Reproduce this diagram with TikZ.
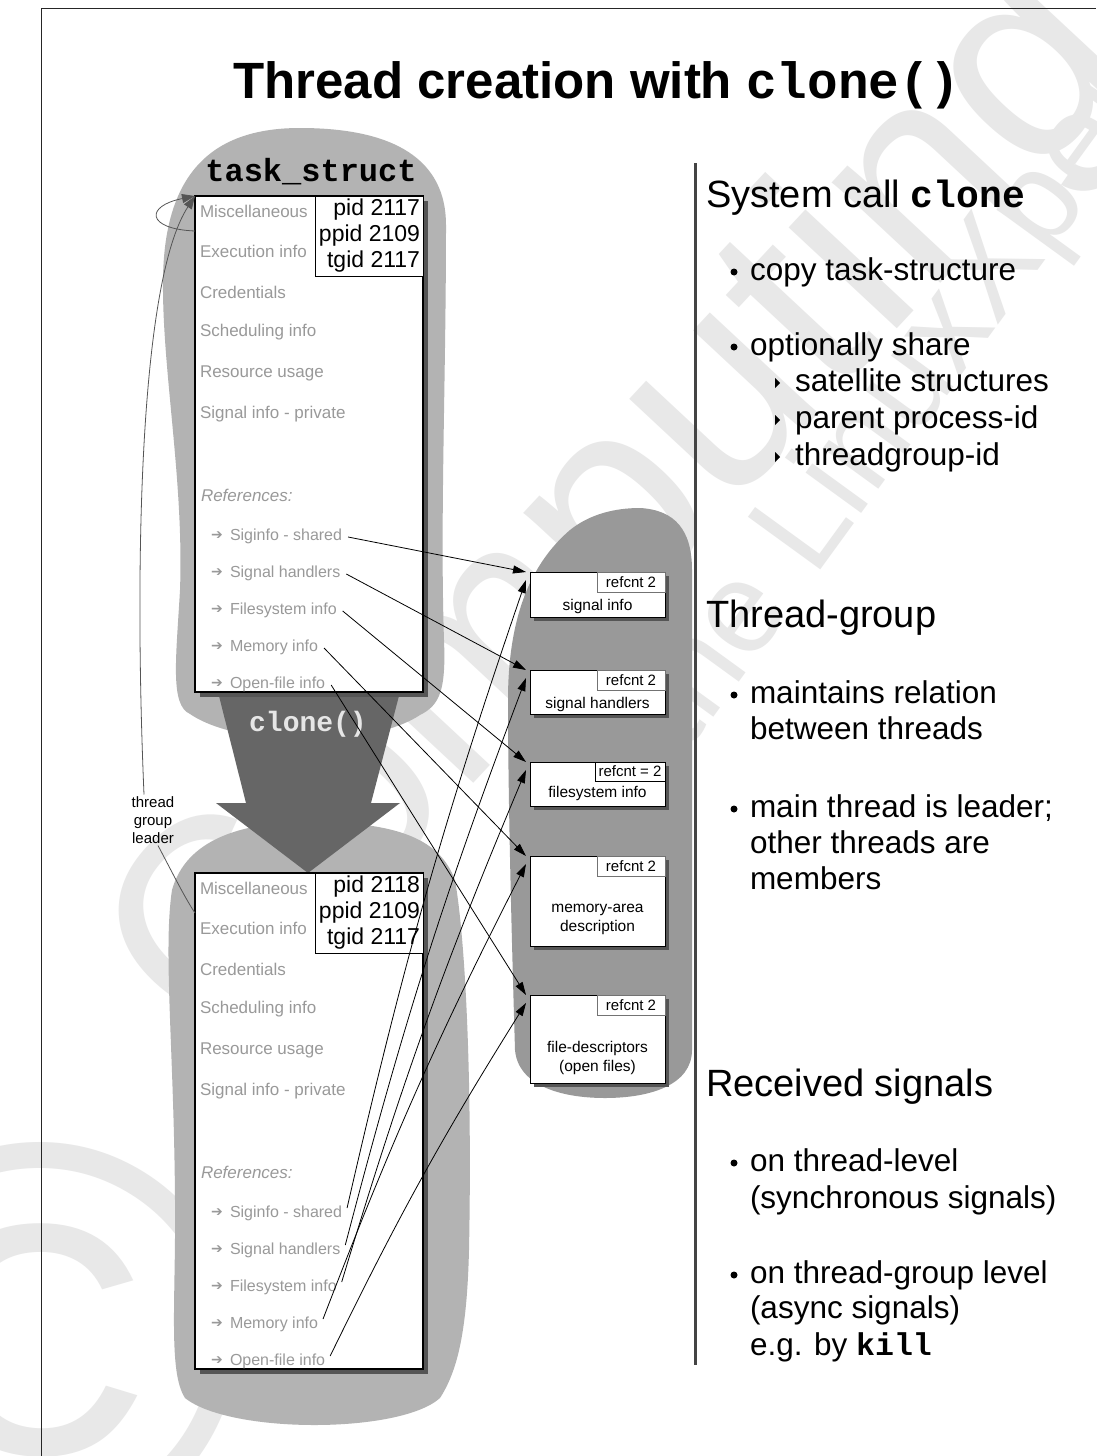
\documentclass[tikz,border=0pt]{standalone}
\usepackage{fontspec}
\setmainfont{Liberation Sans}
\newfontfamily\codefont{Liberation Mono}
\newfontfamily\glyphfont{DejaVu Sans}
\usetikzlibrary{arrows.meta,calc,shadows}

\definecolor{blobgray}{HTML}{B3B3B3}
\definecolor{satgray}{HTML}{999999}
\definecolor{arrowgray}{HTML}{666666}
\definecolor{itemgray}{HTML}{999999}
\definecolor{markgray}{HTML}{E8E8E8}
\definecolor{shadowgray}{HTML}{555555}
\definecolor{linkgray}{HTML}{555555}
\definecolor{rulegray}{HTML}{444444}
\definecolor{clonetext}{HTML}{E6E6E6}

\newcommand{\setfs}[2]{\fontsize{#1}{#2}\selectfont}
\newcommand{\code}[1]{{\codefont\bfseries #1}}

\begin{document}
\begin{tikzpicture}[
  x=1pt, y=-1pt,
  every node/.style={inner sep=0pt, outer sep=0pt},
  bigshadow/.style={drop shadow={shadow xshift=5pt, shadow yshift=-5pt, fill=shadowgray, opacity=1}},
  smallshadow/.style={drop shadow={shadow xshift=4pt, shadow yshift=-4pt, fill=shadowgray, opacity=1}},
  frame/.style={draw=black, line width=1.1pt, fill=white, bigshadow, anchor=north west,
    minimum width=228, minimum height=496},
  pidbox/.style={draw=black, line width=1pt, fill=white, anchor=north east,
    minimum width=105, minimum height=80, align=right, inner xsep=3pt, font=\setfs{23}{26}},
  item/.style={anchor=west, text=itemgray, font=\setfs{17}{20}},
  refitem/.style={anchor=west, text=itemgray, font=\setfs{16}{19}},
  refmark/.style={anchor=west, text=itemgray, font=\glyphfont\setfs{14}{16}},
  satbox/.style={draw=black, line width=1pt, fill=white, smallshadow, anchor=north west,
    minimum width=135},
  refcnt/.style={draw=black!55, line width=0.8pt, fill=white, anchor=north east,
    minimum width=68, minimum height=20, font=\setfs{15}{18}},
  satlabel/.style={align=center, font=\setfs{15.5}{19}},
  head/.style={anchor=west, font=\setfs{38}{45}, text height=27pt, text depth=8pt},
  bul/.style={anchor=west, font=\setfs{31.5}{37}, text height=23pt, text depth=7pt},
  wmtext/.style={text=markgray},
  link/.style={draw=black, line width=0.8pt, -{Triangle[length=13pt,width=8pt]}},
  leader/.style={draw=linkgray, line width=0.8pt},
  leaderarrow/.style={leader, -{Triangle[length=13pt,width=9pt,fill=linkgray]}},
  pics/taskbox/.style={code={
    \node[frame] (-frame) at (0,0) {};
    \node[pidbox] (-pid) at (228,0) {pid #1\\ppid 2109\\tgid 2117};
    \node[item] (-misc)  at (5,15)  {Miscellaneous};
    \node[item] (-exec)  at (5,55)  {Execution info};
    \node[item] (-cred)  at (5,96)  {Credentials};
    \node[item] (-sched) at (5,136) {Scheduling info};
    \node[item] (-res)   at (5,177) {Resource usage};
    \node[item] (-sigp)  at (5,218) {Signal info - private};
    \node[item, font=\itshape\setfs{17}{20}] (-refs) at (6,299) {References:};
    \foreach \n/\yy/\t in {sig/340/Siginfo - shared, hand/377/Signal handlers,
        fsys/414/Filesystem info, mem/451/Memory info, file/488/Open-file info} {
      \node[refmark] (-\n-mark) at (16,\yy) {➔};
      \node[refitem] (-\n) at (35,\yy) {\t};
    }
  }}
]
\useasboundingbox (0,0) rectangle (1096,1456);
\fill[white] (0,0) rectangle (1096,1456);

% faint watermark lettering behind the drawing
\begin{scope}
  \clip (0,0) rectangle (1096,1456);
  \node[wmtext, font=\setfs{560}{560}] (wmc) at (40,1340) {©};
  \node[wmtext, rotate=47, font=\setfs{280}{280}] (wmcomp) at (625,515) {Computing};
  \node[wmtext, rotate=54, font=\setfs{130}{130}] (wmlx) at (906,395) {the LinuxXpert};
\end{scope}

% page frame
\draw[black!85, line width=1pt] (41,1456) -- (41,8) -- (1096,8);

% title
\node[font=\bfseries\setfs{51}{56}, text height=36pt, text depth=0pt] (title) at (597,80)
  {Thread creation with \code{clone()}};

% grey backdrops
\fill[blobgray] (300,128) .. controls (395,128) and (446,160) .. (446,225)
  .. controls (446,380) and (440,520) .. (444,640)
  .. controls (446,690) and (440,705) .. (420,715)
  .. controls (370,748) and (240,748) .. (190,714)
  .. controls (170,705) and (176,660) .. (180,590)
  .. controls (184,480) and (162,370) .. (163,280)
  .. controls (164,170) and (215,128) .. (300,128) -- cycle;
\fill[blobgray] (310,822) .. controls (400,822) and (440,840) .. (455,880)
  .. controls (467,950) and (472,1100) .. (469,1250)
  .. controls (467,1330) and (458,1370) .. (440,1398)
  .. controls (400,1434) and (230,1434) .. (185,1398)
  .. controls (168,1372) and (176,1300) .. (175,1200)
  .. controls (174,1050) and (163,950) .. (172,890)
  .. controls (186,840) and (240,822) .. (310,822) -- cycle;
\fill[satgray] (640,508) .. controls (675,510) and (692,530) .. (692,570)
  -- (692,1050)
  .. controls (692,1085) and (650,1098) .. (605,1098)
  .. controls (560,1098) and (518,1085) .. (515,1050)
  .. controls (512,950) and (508,800) .. (508,700)
  .. controls (508,610) and (535,560) .. (570,530)
  .. controls (590,514) and (615,508) .. (640,508) -- cycle;

% the clone() arrow
\fill[arrowgray] (218,692) -- (400,692) -- (371,803) -- (400,803) -- (308,873)
  -- (216,803) -- (246,803) -- cycle;
\node[text=clonetext, font=\codefont\bfseries\setfs{28}{30}] (clonelabel) at (308,724) {clone()};

% parent and child task structures
\node[font=\codefont\bfseries\setfs{32}{34}] (tsname) at (311,172) {task\_struct};
\pic (top) at (195,196) {taskbox=2117};
\pic (bot) at (195,873) {taskbox=2118};

% shared satellite structures
\node[satbox, minimum height=45] (si) at (530,572) {};
\node[refcnt] (si-rc) at (si.north east) {refcnt 2};
\node[satlabel] (si-l) at (597.5,606) {signal info};

\node[satbox, minimum height=44] (sh) at (530,670) {};
\node[refcnt] (sh-rc) at (sh.north east) {refcnt 2};
\node[satlabel] (sh-l) at (597.5,704) {signal handlers};

\node[satbox, minimum height=44] (fs) at (530,762) {};
\node[refcnt, draw=black, minimum width=70, minimum height=19] (fs-rc) at (fs.north east) {refcnt = 2};
\node[satlabel] (fs-l) at (597.5,793) {filesystem info};

\node[satbox, minimum height=90] (mm) at (530,856) {};
\node[refcnt] (mm-rc) at (mm.north east) {refcnt 2};
\node[satlabel] (mm-l) at (597.5,919) {memory-area\\description};

\node[satbox, minimum height=88] (fd) at (530,995) {};
\node[refcnt] (fd-rc) at (fd.north east) {refcnt 2};
\node[satlabel] (fd-l) at (597.5,1058) {file-descriptors\\(open files)};

% thread group leader annotation
\node[align=center, font=\setfs{15}{18}] (tgl) at (153,820) {thread\\group\\leader};
\draw[leaderarrow] ($(tgl.north)+(-9,-2)$) .. controls (134,560) and (140,280) .. (top-frame.north west);
\draw[leaderarrow] ($(top-frame.north west)+(0,35)$) .. controls (146,229) and (145,206) .. (top-frame.north west);
\draw[leader] ($(tgl.south)+(5,2)$) .. controls (172,872) and (185,898) .. ($(bot-frame.north west)+(0,40)$);

% right-hand column
\draw[rulegray, line width=3pt] (695,163) -- (695,1365);

\node[head] (h1) at (706,198) {System call \code{clone}};
\node[bul] (b1) at (750,272) {copy task-structure};
\node[bul] (b2) at (750,347) {optionally share};
\node[bul] (s1) at (795,383) {satellite structures};
\node[bul] (s2) at (795,420) {parent process-id};
\node[bul] (s3) at (795,457) {threadgroup-id};

\node[head] (h2) at (706,618) {Thread-group};
\node[bul] (b3)  at (750,695) {maintains relation};
\node[bul] (b3b) at (750,731) {between threads};
\node[bul] (b4)  at (750,809) {main thread is leader;};
\node[bul] (b4b) at (750,845) {other threads are};
\node[bul] (b4c) at (750,881) {members};

\node[head] (h3) at (706,1087) {Received signals};
\node[bul] (b5)  at (750,1163) {on thread-level};
\node[bul] (b5b) at (750,1200) {(synchronous signals)};
\node[bul] (b6)  at (750,1275) {on thread-group level};
\node[bul] (b6b) at (750,1310) {(async signals)};
\node[bul] (b6c) at (750,1347) {e.g. by \code{kill}};

\foreach \n in {b1,b2,b3,b4,b5,b6}
  \fill ($(\n.west)+(-16,0)$) circle[radius=3.5pt];
\foreach \n in {s1,s2,s3}
  \fill ($(\n.west)+(-20,-5)$) -- ($(\n.west)+(-15,0)$) -- ($(\n.west)+(-20,5)$) -- cycle;

% references from both task structures to the shared structures
\foreach \s/\t in {sig/si, hand/sh, fsys/fs, mem/mm, file/fd} {
  \draw[link] ($(top-\s.east)+(6,1)$) -- ($(\t.north west)+(-4,0)$);
  \draw[link] ($(bot-\s.east)+(5,-5)$) to[bend left=3] ($(\t.north west)+(-4,8)$);
}
\end{tikzpicture}
\end{document}
